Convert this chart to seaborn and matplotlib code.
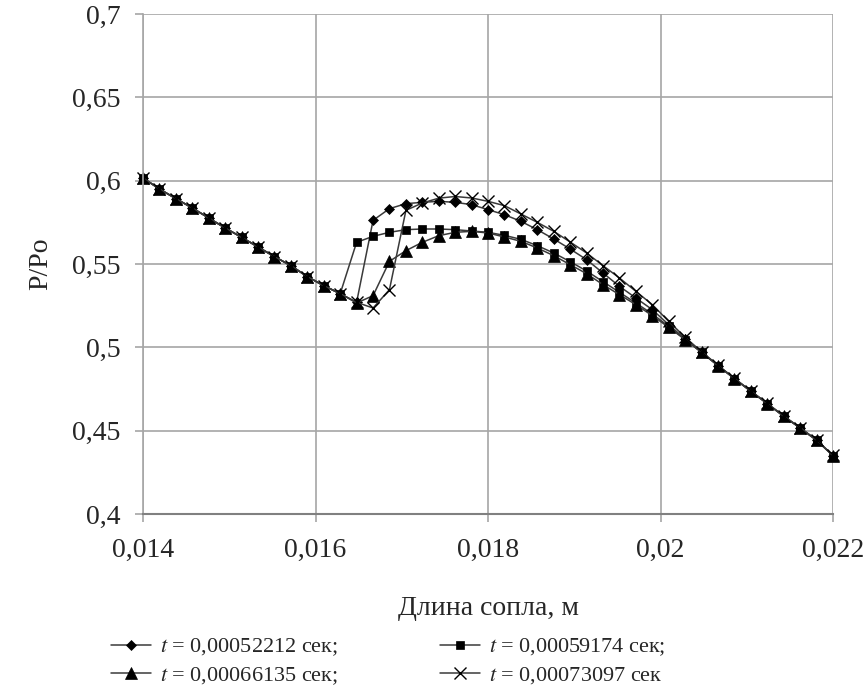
import numpy as np
import pandas as pd
import matplotlib
matplotlib.use("Agg")
import matplotlib.pyplot as plt
import seaborn as sns
from matplotlib.ticker import FuncFormatter, MultipleLocator

# nozzle coordinate, m (uniform grid, 43 nodes)
x_m = [0.014000, 0.014190, 0.014381, 0.014571, 0.014762, 0.014952, 0.015143,
       0.015333, 0.015524, 0.015714, 0.015905, 0.016095, 0.016286, 0.016476,
       0.016667, 0.016857, 0.017048, 0.017238, 0.017429, 0.017619, 0.017810,
       0.018000, 0.018190, 0.018381, 0.018571, 0.018762, 0.018952, 0.019143,
       0.019333, 0.019524, 0.019714, 0.019905, 0.020095, 0.020286, 0.020476,
       0.020667, 0.020857, 0.021048, 0.021238, 0.021429, 0.021619, 0.021810,
       0.022000]

# P/Po
p_t1 = [0.6016, 0.5950, 0.5892, 0.5836, 0.5776, 0.5716, 0.5660, 0.5602, 0.5544,
        0.5490, 0.5424, 0.5370, 0.5322, 0.5270, 0.5762, 0.5832, 0.5862, 0.5870,
        0.5876, 0.5870, 0.5856, 0.5826, 0.5796, 0.5756, 0.5706, 0.5650, 0.5590,
        0.5526, 0.5446, 0.5366, 0.5296, 0.5226, 0.5136, 0.5050, 0.4970, 0.4890,
        0.4812, 0.4736, 0.4662, 0.4586, 0.4516, 0.4442, 0.4350]
p_t2 = [0.6016, 0.5950, 0.5892, 0.5836, 0.5776, 0.5716, 0.5660, 0.5602, 0.5544,
        0.5490, 0.5424, 0.5370, 0.5322, 0.5630, 0.5666, 0.5690, 0.5706, 0.5710,
        0.5710, 0.5706, 0.5698, 0.5690, 0.5672, 0.5648, 0.5610, 0.5566, 0.5514,
        0.5458, 0.5394, 0.5330, 0.5266, 0.5200, 0.5126, 0.5046, 0.4970, 0.4890,
        0.4812, 0.4736, 0.4662, 0.4586, 0.4516, 0.4442, 0.4350]
p_t3 = [0.6016, 0.5950, 0.5892, 0.5836, 0.5776, 0.5716, 0.5660, 0.5602, 0.5544,
        0.5490, 0.5424, 0.5370, 0.5322, 0.5266, 0.5310, 0.5516, 0.5580, 0.5630,
        0.5670, 0.5690, 0.5696, 0.5686, 0.5662, 0.5636, 0.5596, 0.5550, 0.5496,
        0.5442, 0.5376, 0.5316, 0.5256, 0.5190, 0.5120, 0.5046, 0.4970, 0.4890,
        0.4812, 0.4736, 0.4662, 0.4586, 0.4516, 0.4442, 0.4350]
p_t4 = [0.6016, 0.5950, 0.5892, 0.5836, 0.5776, 0.5716, 0.5660, 0.5602, 0.5544,
        0.5490, 0.5424, 0.5370, 0.5322, 0.5270, 0.5236, 0.5346, 0.5822, 0.5866,
        0.5895, 0.5905, 0.5896, 0.5876, 0.5850, 0.5800, 0.5750, 0.5696, 0.5632,
        0.5566, 0.5490, 0.5416, 0.5336, 0.5256, 0.5156, 0.5060, 0.4974, 0.4892,
        0.4814, 0.4738, 0.4664, 0.4588, 0.4518, 0.4444, 0.4352]

labels = ["$t$ = 0,00052212 сек;", "$t$ = 0,00059174 сек;",
          "$t$ = 0,00066135 сек;", "$t$ = 0,00073097 сек"]
markers = ["D", "s", "^", "x"]
msizes = [5.5, 5.5, 8, 8]

sns.set_style("whitegrid")
plt.rcParams["font.family"] = ["Liberation Serif", "DejaVu Serif"]
plt.rcParams["mathtext.fontset"] = "stix"

fig, ax = plt.subplots(figsize=(8.67, 6.92), dpi=100)
fig.subplots_adjust(left=0.165, right=0.9608, top=0.9798, bottom=0.2572)

handles = []
for y, lab, m, ms in zip([p_t1, p_t2, p_t3, p_t4], labels, markers, msizes):
    sns.lineplot(x=x_m, y=y, ax=ax, color="#3a3a3a", linewidth=1.1,
                 marker=m, markersize=ms, markerfacecolor="black",
                 markeredgecolor="black", markeredgewidth=1.0 if m == "x" else 0.5,
                 clip_on=False, label=lab, legend=False)
    handles.append(ax.lines[-1])

ax.set_xlim(0.014, 0.022)
ax.set_ylim(0.4, 0.7)
ax.xaxis.set_major_locator(MultipleLocator(0.002))
ax.yaxis.set_major_locator(MultipleLocator(0.05))

def comma(v, pos):
    s = "%.3f" % v
    s = s.rstrip("0").rstrip(".")
    return s.replace(".", ",")

ax.xaxis.set_major_formatter(FuncFormatter(comma))
ax.yaxis.set_major_formatter(FuncFormatter(comma))

ax.grid(True, color="#a6a6a6", linewidth=1.2)
for side in ["top", "right"]:
    ax.spines[side].set_visible(False)
ax.spines["left"].set_color("#a6a6a6")
ax.spines["bottom"].set_color("#808080")
ax.spines["left"].set_linewidth(1.2)
ax.spines["bottom"].set_linewidth(1.5)
ax.tick_params(axis="both", direction="out", length=6, width=1.2,
               color="#a6a6a6", labelsize=20, pad=10)
ax.tick_params(axis="x", bottom=True, pad=11)
ax.tick_params(axis="y", left=True)

ax.set_xlabel("Длина сопла, м", fontsize=20, labelpad=24)
ax.set_ylabel("P/Po", fontsize=20, labelpad=14)

order = [0, 2, 1, 3]
fig.legend([handles[i] for i in order], [labels[i] for i in order],
           loc="lower left", bbox_to_anchor=(0.118, -0.005), ncol=2,
           frameon=False, fontsize=16, handlelength=1.8, handletextpad=0.4,
           columnspacing=4.6, labelspacing=0.3, borderaxespad=0.0)

fig.savefig("out.png", dpi=100)
